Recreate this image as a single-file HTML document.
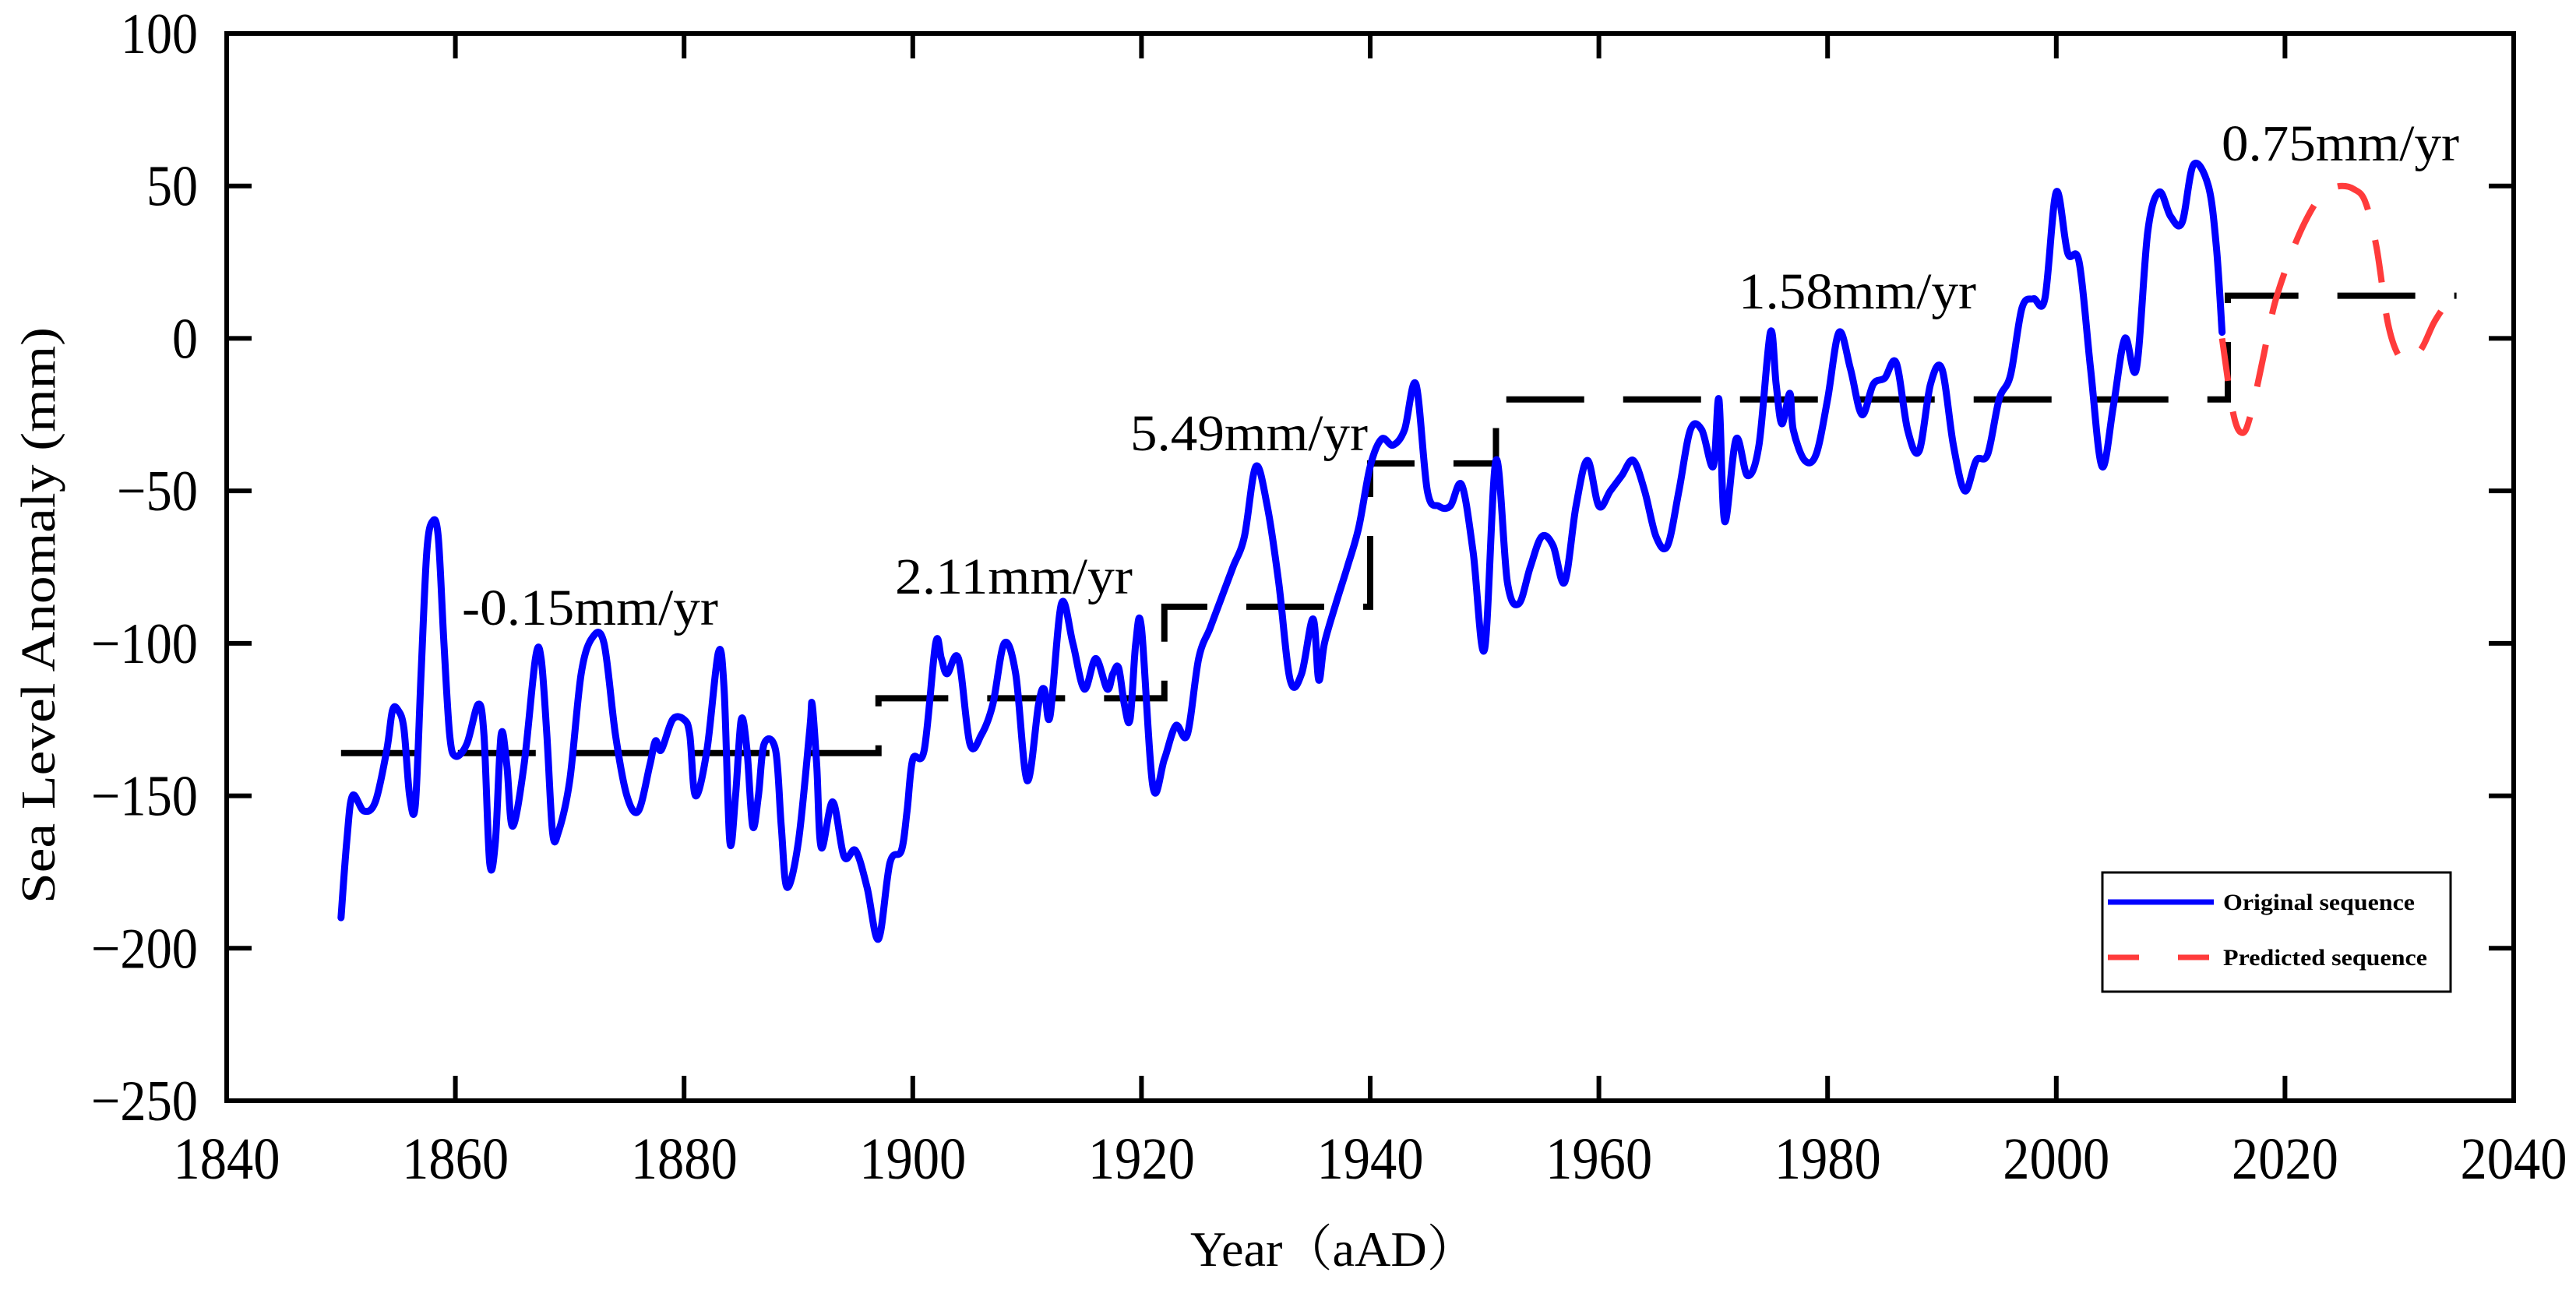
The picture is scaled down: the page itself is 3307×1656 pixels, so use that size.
<!DOCTYPE html>
<html><head><meta charset="utf-8"><style>
html,body{margin:0;padding:0;background:#fff;}
svg{display:block;font-family:"Liberation Serif",serif;}
</style></head><body>
<svg id="chart" width="3307" height="1656" viewBox="0 0 3307 1656" xmlns="http://www.w3.org/2000/svg">
<g id="plot"></g>
</svg>
<script>
const origYears=[1850,1850.5,1851,1852,1853,1854,1854.5,1855,1855.5,1856,1856.5,1857,1857.5,1858,1858.5,1859,1859.5,1860,1861,1862,1862.5,1863,1863.5,1864,1864.5,1865,1866,1867,1867.5,1868,1868.5,1869,1870,1871,1872,1873,1874,1875,1876,1877,1877.5,1878,1879,1880,1880.5,1881,1882,1883,1883.5,1884,1884.5,1885,1885.5,1886,1886.5,1887,1888,1888.5,1889,1890,1891,1891.2,1891.6,1892,1893,1894,1895,1896,1897,1898,1899,1899.5,1900,1901,1902,1902.5,1903,1904,1905,1906,1907,1908,1909,1910,1911,1911.5,1912,1913,1914,1915,1916,1917,1917.5,1918,1918.5,1919,1919.5,1920,1921,1922,1923,1924,1925,1926,1927,1928,1929,1930,1931,1932,1933,1934,1935,1935.5,1936,1937,1938,1939,1940,1941,1942,1943,1944,1945,1946,1947,1948,1949,1950,1951,1952,1953,1954,1955,1956,1957,1958,1959,1960,1961,1962,1963,1964,1965,1966,1967,1968,1969,1970,1970.5,1971,1972,1973,1974,1975,1975.5,1976,1976.7,1977,1978,1979,1980,1981,1982,1983,1984,1985,1986,1987,1988,1989,1990,1991,1992,1993,1994,1995,1996,1997,1998,1999,2000,2001,2002,2003,2004,2005,2006,2007,2008,2009,2010,2011,2012,2013.3,2014,2014.5];
const origValues=[-190,-165,-150,-155,-152,-135,-122,-122,-128,-150,-153,-110,-70,-60,-65,-100,-130,-137,-133,-120,-130,-172,-165,-130,-140,-160,-140,-105,-105,-130,-162,-162,-145,-110,-98,-100,-130,-150,-155,-140,-132,-135,-125,-125,-130,-150,-135,-103,-115,-165,-150,-125,-135,-160,-150,-133,-135,-160,-180,-165,-128,-120,-140,-167,-152,-170,-168,-180,-197,-172,-168,-155,-138,-135,-100,-105,-110,-105,-133,-130,-120,-100,-110,-145,-120,-115,-124,-87,-100,-115,-105,-115,-110,-108,-120,-125,-100,-95,-147,-138,-127,-130,-105,-95,-85,-75,-65,-42,-55,-80,-112,-110,-92,-112,-100,-87,-75,-62,-42,-33,-35,-30,-15,-50,-55,-55,-48,-70,-102,-40,-80,-87,-75,-65,-68,-80,-55,-40,-55,-50,-45,-40,-50,-65,-68,-50,-30,-30,-42,-20,-60,-33,-45,-35,2,-15,-28,-18,-30,-40,-38,-20,2,-10,-25,-15,-13,-8,-30,-37,-15,-10,-35,-50,-40,-38,-20,-12,10,13,13,48,28,25,-10,-42,-22,0,-10,35,48,40,38,57,50,30,2];
const predYears=[2014.5,2015.5,2016.3,2017,2018,2019,2020,2021,2022,2023,2024,2025,2026,2027,2028,2029,2030,2031,2032,2033,2034,2034.6];
const predValues=[0,-25,-31,-25,-8,10,22,32,40,46,49,50,49,45,30,5,-6,-7,-3,5,11,15];
const stepStarts=[1850,1897,1922,1940,1951,2015];
const stepEnds=[1897,1922,1940,1951,2015,2035];
const stepLevels=[-136,-118,-88,-41,-20,14];
const rateLabels=["-0.15mm/yr","2.11mm/yr","5.49mm/yr","1.58mm/yr","0.75mm/yr"];
const rateLabelX=[593,1149,1451,2232,2852];
const rateLabelY=[802,762,578,396,206];
const xTicks=[1840,1860,1880,1900,1920,1940,1960,1980,2000,2020,2040];
const yTicks=[100,50,0,-50,-100,-150,-200,-250];

const L=291,R=3227,T=43,B=1413;
const X=v=>L+(v-1840)/200*(R-L);
const Y=v=>T+(100-v)/350*(B-T);
const NS="http://www.w3.org/2000/svg";
const svg=document.getElementById('chart');
function mk(tag,attrs,parent){const e=document.createElementNS(NS,tag);for(const k in attrs)e.setAttribute(k,attrs[k]);(parent||svg).appendChild(e);return e;}
function smooth(xs,ys){
  const p=xs.map((x,i)=>[X(x),Y(ys[i])]);
  let d=`M${p[0][0]},${p[0][1]}`;
  for(let i=0;i<p.length-1;i++){
    const p0=p[Math.max(0,i-1)],p1=p[i],p2=p[i+1],p3=p[Math.min(p.length-1,i+2)];
    const c1=[p1[0]+(p2[0]-p0[0])/6,p1[1]+(p2[1]-p0[1])/6];
    const c2=[p2[0]-(p3[0]-p1[0])/6,p2[1]-(p3[1]-p1[1])/6];
    d+=`C${c1[0]},${c1[1]} ${c2[0]},${c2[1]} ${p2[0]},${p2[1]}`;
  }
  return d;
}

let d='';
for(let i=0;i<stepStarts.length;i++){
  if(i===0)d+=`M${X(stepStarts[i])},${Y(stepLevels[i])}`;
  else d+=`L${X(stepStarts[i])},${Y(stepLevels[i])}`;
  d+=`L${X(stepEnds[i])},${Y(stepLevels[i])}`;
}
const step=mk('path',{d:d,fill:'none',stroke:'#000','stroke-width':8,'stroke-dasharray':'100 50'});



const bp=mk('path',{d:smooth(origYears,origValues),fill:'none',stroke:'#0000ff','stroke-width':9,'stroke-linejoin':'round','stroke-linecap':'round'});



const rp=mk('path',{d:smooth(predYears,predValues),fill:'none',stroke:'#ff3b3b','stroke-width':8,'stroke-dasharray':'55 40'});



const fr=mk('rect',{x:L,y:T,width:R-L,height:B-T,fill:'none',stroke:'#000','stroke-width':6});



xTicks.forEach(t=>{
  const x=X(t);
  mk('line',{x1:x,y1:B,x2:x,y2:B-32,stroke:'#000','stroke-width':6});
  mk('line',{x1:x,y1:T,x2:x,y2:T+32,stroke:'#000','stroke-width':6});
  const tx=mk('text',{x:x,y:1513,'text-anchor':'middle','font-size':76,textLength:137,lengthAdjust:'spacingAndGlyphs'});
  tx.textContent=t;
  
  
});
yTicks.forEach(t=>{
  const y=Y(t);
  mk('line',{x1:L,y1:y,x2:L+32,y2:y,stroke:'#000','stroke-width':6});
  mk('line',{x1:R,y1:y,x2:R-32,y2:y,stroke:'#000','stroke-width':6});
  const s=t<0?'\u2212'+(-t):String(t);
  const w=t<0?(String(-t).length*33+38):String(t).length*33;
  const tx=mk('text',{x:254,y:y+25,'text-anchor':'end','font-size':74,textLength:w,lengthAdjust:'spacingAndGlyphs'});
  tx.textContent=s;
  
  
});

rateLabels.forEach((s,i)=>{
  const tx=mk('text',{x:rateLabelX[i],y:rateLabelY[i],'font-size':66,textLength:s.startsWith('-')?329:305,lengthAdjust:'spacingAndGlyphs'});
  tx.textContent=s;
  
  
});

const yl=mk('text',{x:0,y:0,transform:'translate(70,790) rotate(-90)','text-anchor':'middle','font-size':62,textLength:740,lengthAdjust:'spacingAndGlyphs'});
yl.textContent='Sea Level Anomaly (mm)';


const xl=mk('text',{x:1712,y:1625,'text-anchor':'middle','font-size':64,textLength:368,lengthAdjust:'spacingAndGlyphs'});
xl.setAttribute('font-family','"Liberation Serif","Noto Serif CJK SC",serif');
xl.textContent='Year（aAD）';



const lg=mk('g',{});


mk('rect',{x:2699,y:1120,width:447,height:153,fill:'#fff',stroke:'#000','stroke-width':3},lg);
mk('line',{x1:2706,y1:1158,x2:2842,y2:1158,stroke:'#0000ff','stroke-width':7},lg);
mk('line',{x1:2706,y1:1229,x2:2842,y2:1229,stroke:'#ff3b3b','stroke-width':7,'stroke-dasharray':'40 50'},lg);
const t1=mk('text',{x:2854,y:1168,'font-size':30,'font-weight':'bold',textLength:246,lengthAdjust:'spacingAndGlyphs'},lg);
t1.textContent='Original sequence';


const t2=mk('text',{x:2854,y:1239,'font-size':30,'font-weight':'bold',textLength:262,lengthAdjust:'spacingAndGlyphs'},lg);
t2.textContent='Predicted sequence';


</script>
</body></html>
